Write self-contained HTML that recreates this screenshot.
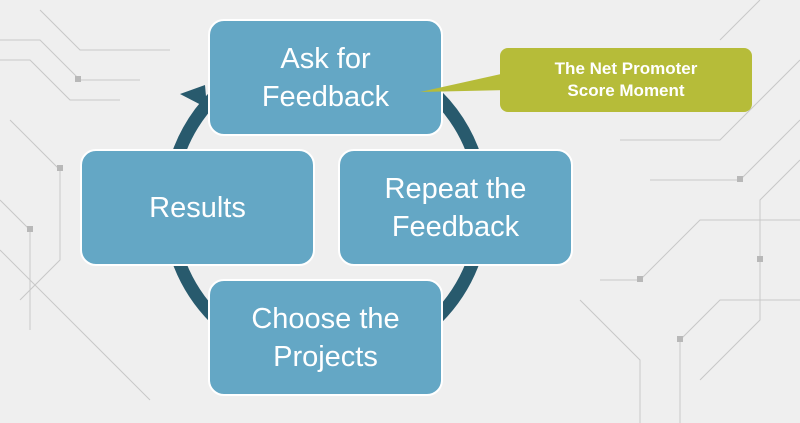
<!DOCTYPE html>
<html><head><style>
html,body{margin:0;padding:0}
body{width:800px;height:423px;background:#efefef;position:relative;overflow:hidden;font-family:"Liberation Sans",sans-serif}
.b{position:absolute;width:231px;height:113px;background:#64a7c5;border:2px solid #fff;border-radius:16px;color:#fff;font-size:29px;line-height:38px;display:flex;align-items:center;justify-content:center;text-align:center}
.c{position:absolute;left:500px;top:48px;width:252px;height:64px;background:#b6bc39;border-radius:8px;color:#fff;font-weight:bold;font-size:17px;line-height:22px;display:flex;align-items:center;justify-content:center;text-align:center}
</style></head><body>
<svg width="800" height="423" style="position:absolute;left:0;top:0">
<g stroke="#c8c8c8" stroke-width="1" fill="none">
<path d="M0 40 L40 40 L80 80 L140 80"/><path d="M0 60 L30 60 L70 100 L120 100"/><path d="M10 120 L60 170 L60 260 L20 300"/><path d="M0 200 L30 230 L30 330"/><path d="M40 10 L80 50 L170 50"/><path d="M0 250 L50 300 L150 400"/>
<path d="M800 120 L740 180 L650 180"/><path d="M800 160 L760 200 L760 320 L700 380"/><path d="M800 220 L700 220 L640 280 L600 280"/><path d="M800 300 L720 300 L680 340 L680 423"/><path d="M760 0 L720 40"/><path d="M620 140 L720 140 L800 60"/><path d="M580 300 L640 360 L640 423"/>
</g>
<g fill="#b8b8b8"><rect x="75" y="76" width="6" height="6"/><rect x="57" y="165" width="6" height="6"/><rect x="27" y="226" width="6" height="6"/><rect x="737" y="176" width="6" height="6"/><rect x="757" y="256" width="6" height="6"/><rect x="677" y="336" width="6" height="6"/><rect x="637" y="276" width="6" height="6"/></g>
<circle cx="326" cy="207" r="157" stroke="#285a6d" stroke-width="13" fill="none"/>
<polygon points="180,94 205,85 207,108" fill="#285a6d"/>
</svg>
<div class="b" style="left:208px;top:19px">Ask for<br>Feedback</div>
<div class="b" style="left:80px;top:149px">Results</div>
<div class="b" style="left:338px;top:149px">Repeat the<br>Feedback</div>
<div class="b" style="left:208px;top:279px">Choose the<br>Projects</div>
<svg width="800" height="423" style="position:absolute;left:0;top:0">
<polygon points="420,92 510,72 510,90" fill="#b6bc39"/>
</svg>
<div class="c">The Net Promoter<br>Score Moment</div>
</body></html>
